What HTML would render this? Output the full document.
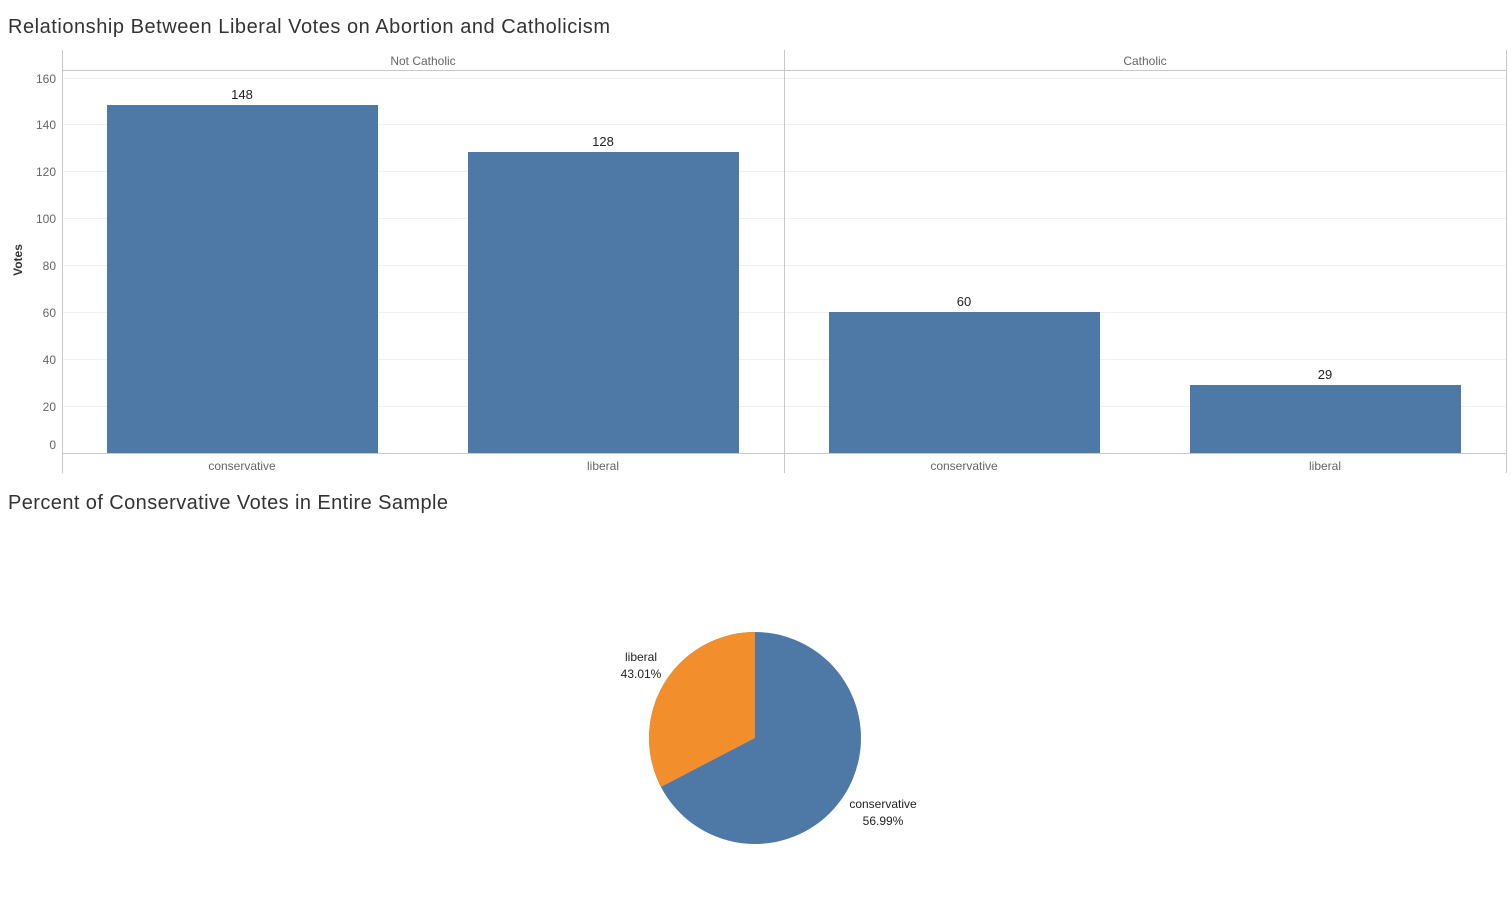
<!DOCTYPE html>
<html><head><style>
body{margin:0;background:#fff;}
text{font-family:"Liberation Sans",sans-serif;}
</style></head><body>
<svg width="1511" height="901" xmlns="http://www.w3.org/2000/svg">
<text x="8" y="33" font-size="20" fill="#333" textLength="602" lengthAdjust="spacing">Relationship Between Liberal Votes on Abortion and Catholicism</text>
<g stroke="#f0f0f0" stroke-width="1">
<line x1="63" x2="1506" y1="78.5" y2="78.5"/><line x1="63" x2="1506" y1="124.5" y2="124.5"/>
<line x1="63" x2="1506" y1="171.5" y2="171.5"/><line x1="63" x2="1506" y1="218.5" y2="218.5"/>
<line x1="63" x2="1506" y1="265.5" y2="265.5"/><line x1="63" x2="1506" y1="312.5" y2="312.5"/>
<line x1="63" x2="1506" y1="359.5" y2="359.5"/><line x1="63" x2="1506" y1="406.5" y2="406.5"/>
</g>
<g stroke="#c8c8c8" stroke-width="1">
<line x1="62.5" x2="62.5" y1="50" y2="473"/><line x1="784.5" x2="784.5" y1="50" y2="473"/><line x1="1506.5" x2="1506.5" y1="50" y2="473"/>
<line x1="62" x2="1507" y1="70.5" y2="70.5"/><line x1="62" x2="1507" y1="453.5" y2="453.5"/>
</g>
<g font-size="12" fill="#666" text-anchor="end">
<text x="56" y="83">160</text><text x="56" y="129">140</text><text x="56" y="176">120</text><text x="56" y="223">100</text>
<text x="56" y="270">80</text><text x="56" y="317">60</text><text x="56" y="364">40</text><text x="56" y="411">20</text><text x="56" y="449">0</text>
</g>
<text transform="translate(22,260) rotate(-90)" font-size="12" font-weight="bold" fill="#333" text-anchor="middle">Votes</text>
<g font-size="12" fill="#666" text-anchor="middle">
<text x="423" y="65">Not Catholic</text><text x="1145" y="65">Catholic</text>
<text x="242" y="470">conservative</text><text x="603" y="470">liberal</text>
<text x="964" y="470">conservative</text><text x="1325" y="470">liberal</text>
</g>
<g fill="#4e79a7">
<rect x="107" y="105" width="271" height="348"/><rect x="468" y="152" width="271" height="301"/>
<rect x="829" y="312" width="271" height="141"/><rect x="1190" y="385" width="271" height="68"/>
</g>
<g font-size="13" fill="#222" text-anchor="middle">
<text x="242" y="99">148</text><text x="603" y="146">128</text><text x="964" y="306">60</text><text x="1325" y="379">29</text>
</g>
<text x="8" y="509" font-size="20" fill="#333" textLength="440" lengthAdjust="spacing">Percent of Conservative Votes in Entire Sample</text>
<circle cx="755" cy="738" r="106" fill="#4e79a7"/>
<path d="M755,738 L755,632 A106,106 0 0 0 661,787 Z" fill="#f28e2b"/>
<g font-size="12" fill="#222" text-anchor="middle">
<text x="641" y="661">liberal</text><text x="641" y="678">43.01%</text>
<text x="883" y="808">conservative</text><text x="883" y="825">56.99%</text>
</g>
</svg>
</body></html>
